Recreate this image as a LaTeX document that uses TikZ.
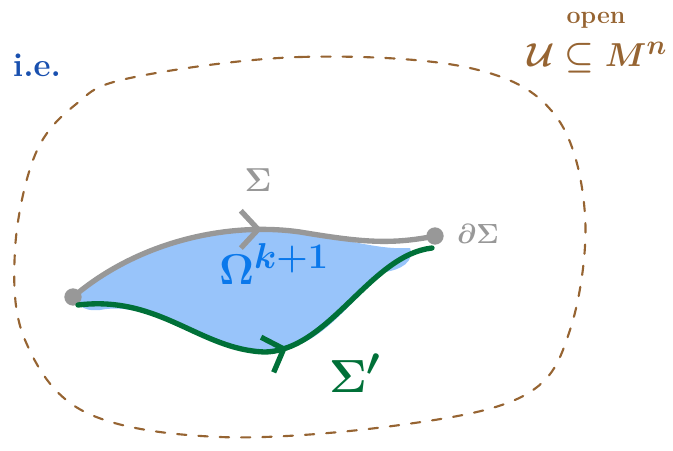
\documentclass[tikz,border=0pt]{standalone}
\usepackage{amsmath,amssymb}
\usepackage{xcolor}
\usepackage{tikz}
\usetikzlibrary{arrows.meta,decorations.markings}

\definecolor{sketchbrown}{RGB}{150,100,50}
\definecolor{sketchgray}{RGB}{152,152,152}
\definecolor{sketchgreen}{RGB}{0,112,56}
\definecolor{sketchblue}{RGB}{152,196,250}
\definecolor{omegablue}{RGB}{10,120,235}
\definecolor{iedblue}{RGB}{25,80,175}

\begin{document}
\begin{tikzpicture}[
  x=0.75pt, y=-0.75pt,
  font=\sffamily\bfseries,
  border/.style={draw=sketchbrown, line width=1.6pt, dash pattern=on 7pt off 9pt, line cap=round},
  endpt/.style={circle, fill=sketchgray, inner sep=0pt, minimum size=13pt},
  midarrow/.style={decoration={markings,
      mark=at position #1 with {\arrow{Straight Barb[length=13pt,width=28pt,line width=4pt]}}},
      postaction={decorate}},
  sigma/.style={draw=sketchgray, line width=4pt, line cap=round},
  sigmap/.style={draw=sketchgreen, line width=4pt, line cap=round}
]
\useasboundingbox (0,0) rectangle (673,450);
% --- open set U ---
\draw[border] plot[smooth cycle, tension=0.6] coordinates {
  (130,78) (300,57) (470,68) (555,115) (585,215) (570,330) (525,395)
  (400,425) (220,437) (85,412) (25,340) (15,250) (35,155) (75,105)};
% --- end points of Sigma ---
\coordinate (pL) at (73,297);
\coordinate (pR) at (435,236);
% --- region Omega ---
\fill[sketchblue] (pL) .. controls (140,240) and (230,222) .. (300,232)
  .. controls (350,240) and (380,250) .. (410,248)
  .. controls (415,262) and (400,270) .. (385,272)
  .. controls (340,310) and (320,350) .. (265,352)
  .. controls (200,345) and (150,300) .. (100,310)
  .. controls (80,312) and (78,302) .. cycle;
\node[endpt] (a) at (pL) {};
\node[endpt] (b) at (pR) {};
% --- Sigma and Sigma' ---
\draw[sigma, midarrow=0.54] (a.center) .. controls (140,240) and (230,222) .. (300,232)
  .. controls (360,242) and (390,245) .. (b.center);
\draw[sigmap, midarrow=0.55] (78,305) .. controls (160,295) and (200,350) .. (265,352)
  .. controls (330,350) and (370,255) .. (432,248);
% --- labels ---
\node[text=sketchgray, font=\Huge] (lsig) at (258,180) {$\boldsymbol{\Sigma}$};
\node[text=sketchgray, font=\huge] (ldsig) at (478,234) {$\boldsymbol{\partial\Sigma}$};
\node[text=omegablue, font=\Huge, scale=1.3] (lom) at (274,264) {$\boldsymbol{\Omega}^{\scriptstyle\boldsymbol{k+1}}$};
\node[text=sketchgreen, font=\Huge, scale=1.4] (lsigp) at (355,373) {$\boldsymbol{\Sigma'}$};
\node[text=iedblue, font=\Huge\bfseries] (lie) at (37,65) {i.e.};
\node[text=sketchbrown, font=\Huge] (lU) at (597,58)
  {$\boldsymbol{\mathcal{U}\mathrel{\subseteq}M^{n}}$};
\node[text=sketchbrown, font=\Large\bfseries, scale=1.3] (lopen) at (596,20) {open};
\end{tikzpicture}
\end{document}
